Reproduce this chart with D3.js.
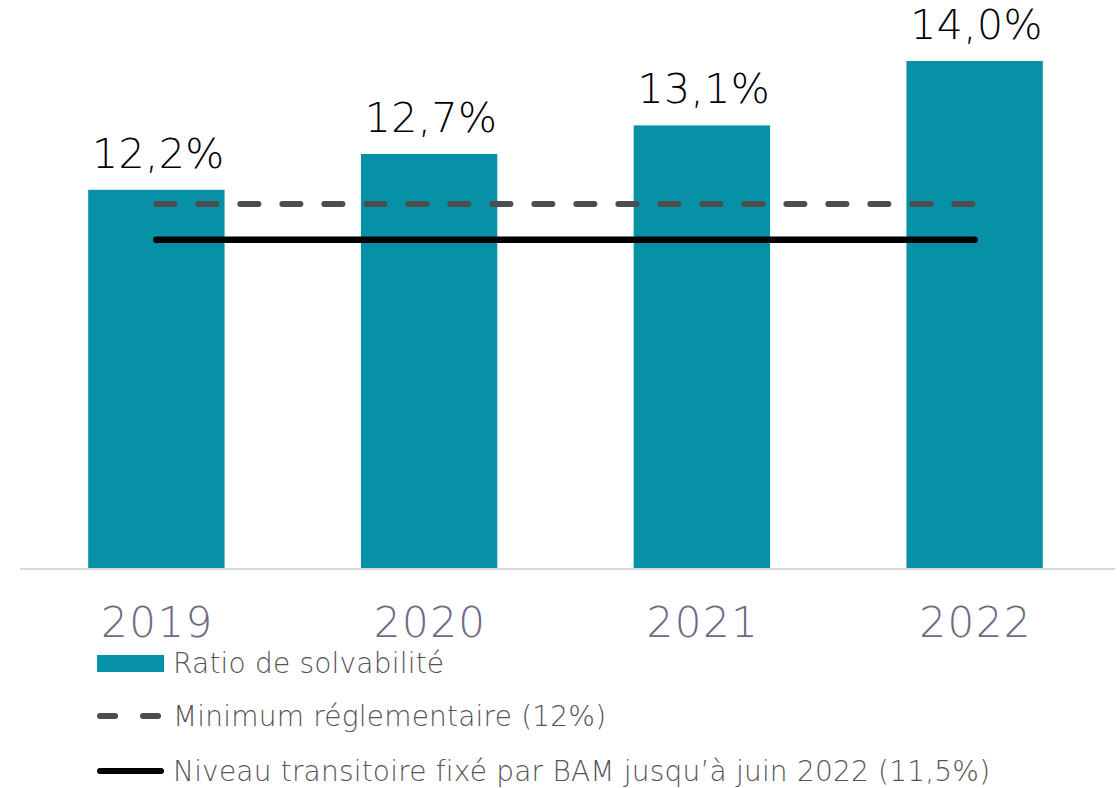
<!DOCTYPE html>
<html>
<head>
<meta charset="utf-8">
<script src="https://cdn.jsdelivr.net/npm/d3@7"></script>
<style>
  body { margin: 0; background: #fff; }
  svg { display: block; }
</style>
</head>
<body>
<svg id="chart"></svg>
<script>
const width = 1120;
const height = 788;

// data
const years = ["2019", "2020", "2021", "2022"];
const ratio = [12.2, 12.7, 13.1, 14.0];
const minimumReg = 12;
const niveauTransitoire = 11.5;
const legendLabels = [
    "Ratio de solvabilité",
    "Minimum réglementaire (12%)",
    "Niveau transitoire fixé par BAM jusqu’à juin 2022 (11,5%)"
];

const fmt = v => d3.format(".1f")(v).replace(".", ",") + "%";

const svg = d3.select("#chart")
    .attr("width", width)
    .attr("height", height);

const x = d3.scaleBand()
    .domain(years)
    .range([20, 1111])
    .paddingInner(0.5)
    .paddingOuter(0.25);

const y = d3.scaleLinear()
    .domain([6.9, 14])
    .range([569, 61]);

// bars
svg.append("g")
    .selectAll("rect")
    .data(ratio)
    .join("rect")
        .attr("x", (d, i) => x(years[i]))
        .attr("y", d => y(d))
        .attr("width", x.bandwidth())
        .attr("height", d => y.range()[0] - y(d))
        .attr("fill", "#0691a6");

// value labels
svg.append("g")
    .selectAll("text")
    .data(ratio)
    .join("text")
        .attr("x", (d, i) => x(years[i]) + x.bandwidth() / 2 + 2)
        .attr("y", d => y(d) - 22)
        .attr("text-anchor", "middle")
        .attr("font-family", "DejaVu Sans")
        .attr("font-weight", 300)
        .attr("font-size", 41)
        .attr("letter-spacing", 0.5)
        .attr("fill", "#000")
        .text(d => fmt(d));

// x axis
const xAxis = svg.append("g")
    .attr("transform", `translate(0,${y.range()[0]})`)
    .call(d3.axisBottom(x).tickSize(0).tickPadding(38));
xAxis.select(".domain")
    .attr("d", `M20,0H1115`)
    .attr("stroke", "#d9d9d9")
    .attr("stroke-width", 2);
xAxis.selectAll("text")
    .attr("dx", 1)
    .attr("font-family", "DejaVu Sans")
    .attr("font-weight", 300)
    .attr("font-size", 42)
    .attr("letter-spacing", 1.5)
    .attr("fill", "#6e6a85");

// reference lines
const x0 = x(years[0]) + x.bandwidth() / 2;
const x1 = x(years[years.length - 1]) + x.bandwidth() / 2;

svg.append("line")
    .attr("x1", x0).attr("x2", x1)
    .attr("y1", y(minimumReg)).attr("y2", y(minimumReg))
    .attr("stroke", "#4d4d4d")
    .attr("stroke-width", 6)
    .attr("stroke-linecap", "round")
    .attr("stroke-dasharray", "18 24");

svg.append("line")
    .attr("x1", x0).attr("x2", x1)
    .attr("y1", y(niveauTransitoire)).attr("y2", y(niveauTransitoire))
    .attr("stroke", "#000")
    .attr("stroke-width", 6.5)
    .attr("stroke-linecap", "round");

// legend
const legend = svg.append("g").attr("transform", "translate(97,0)");
const rowY = [663, 716, 771];

legend.append("rect")
    .attr("x", 0).attr("y", rowY[0] - 8)
    .attr("width", 67).attr("height", 17)
    .attr("fill", "#0691a6");

legend.append("line")
    .attr("x1", 3).attr("x2", 64)
    .attr("y1", rowY[1]).attr("y2", rowY[1])
    .attr("stroke", "#4d4d4d")
    .attr("stroke-width", 6)
    .attr("stroke-linecap", "round")
    .attr("stroke-dasharray", "15 28");

legend.append("line")
    .attr("x1", 3).attr("x2", 64)
    .attr("y1", rowY[2]).attr("y2", rowY[2])
    .attr("stroke", "#000")
    .attr("stroke-width", 6)
    .attr("stroke-linecap", "round");

legend.selectAll("text.lab")
    .data(legendLabels)
    .join("text")
        .attr("class", "lab")
        .attr("x", 76)
        .attr("y", (d, i) => rowY[i] + 10)
        .attr("font-family", "DejaVu Sans")
        .attr("font-weight", 300)
        .attr("font-size", 28)
        .attr("letter-spacing", 0.2)
        .attr("fill", "#555")
        .text(d => d);
</script>
</body>
</html>
